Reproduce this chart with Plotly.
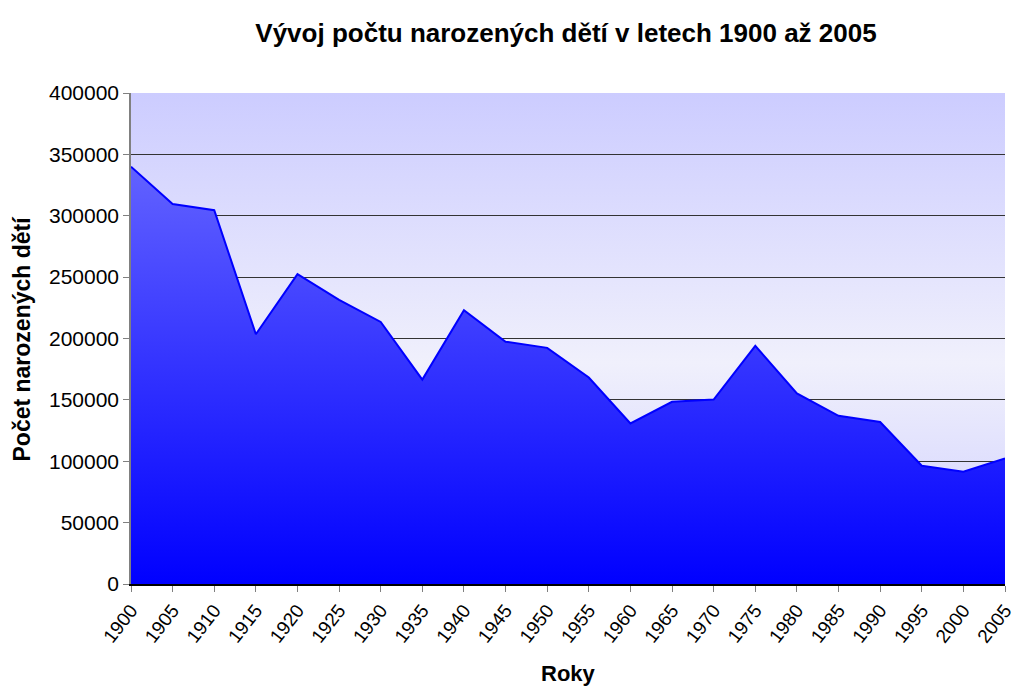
import base64
import plotly.graph_objects as go

# ---- data ----
years = [1900, 1905, 1910, 1915, 1920, 1925, 1930, 1935, 1940, 1945, 1950,
         1955, 1960, 1965, 1970, 1975, 1980, 1985, 1990, 1995, 2000, 2005]
births = [340000, 309500, 304500, 203500, 252500, 231500, 213500, 166500,
          223000, 197400, 192400, 168200, 130800, 148400, 150300, 194000,
          155200, 137000, 132000, 96300, 91400, 102300]
y_ticks = [0, 50000, 100000, 150000, 200000, 250000, 300000, 350000, 400000]
x_tick_labels = [str(y) for y in years]

title = "Vývoj počtu narozených dětí v letech 1900 až 2005"
x_title = "Roky"
y_title = "Počet narozených dětí"

FONT = "Liberation Sans, Arial, sans-serif"

# page body has an 8px margin; keep the figure inside the window (no scrollbars)
W, H = 1010, 681
ML, MR, MT, MB = 123, 13, 85, 105
PW, PH = W - ML - MR, H - MT - MB

# plot-area background gradient (SVG image behind the grid)
svg = (
    '<svg xmlns="http://www.w3.org/2000/svg" width="100" height="100" preserveAspectRatio="none">'
    '<defs><linearGradient id="g" x1="0" y1="0" x2="0" y2="1">'
    '<stop offset="0" stop-color="#ccccff"/>'
    '<stop offset="0.55" stop-color="#f0f0fc"/>'
    '<stop offset="1" stop-color="#ccccff"/>'
    '</linearGradient></defs>'
    '<rect width="100" height="100" fill="url(#g)"/></svg>'
)
svg_uri = "data:image/svg+xml;base64," + base64.b64encode(svg.encode()).decode()

fig = go.Figure()
fig.add_trace(go.Scatter(
    x=years, y=births, mode="lines", fill="tozeroy",
    line=dict(color="#0000ff", width=2),
    fillgradient=dict(type="vertical", start=0, stop=max(births),
                      colorscale=[[0, "#0000ff"], [1, "#6262ff"]]),
    hoverinfo="x+y", showlegend=False,
))

fig.add_layout_image(dict(
    source=svg_uri, xref="paper", yref="paper", x=0, y=1,
    sizex=1, sizey=1, sizing="stretch", xanchor="left", yanchor="top",
    layer="below",
))

fig.update_layout(
    width=W, height=H,
    margin=dict(l=ML, r=MR, t=MT, b=MB, autoexpand=False),
    paper_bgcolor="white",
    plot_bgcolor="rgba(0,0,0,0)",
    font=dict(family=FONT, color="black"),
    title=dict(text="<b>" + title + "</b>", x=558 / W, xanchor="center",
               y=1 - 25 / H, yanchor="middle",
               font=dict(family=FONT, size=26, color="black")),
    showlegend=False,
)

fig.add_annotation(
    text="<b>" + y_title + "</b>", textangle=-90,
    xref="paper", yref="paper", x=(13 - ML) / PW, y=0.5,
    xanchor="center", yanchor="middle", showarrow=False,
    font=dict(family=FONT, size=23, color="black"),
)
fig.add_annotation(
    text="<b>" + x_title + "</b>",
    xref="paper", yref="paper", x=0.5, y=-(665 - (MT + PH)) / PH,
    xanchor="center", yanchor="middle", showarrow=False,
    font=dict(family=FONT, size=22, color="black"),
)

fig.update_xaxes(
    range=[years[0], years[-1]], automargin=False,
    tickmode="array", tickvals=years, ticktext=x_tick_labels,
    tickangle=-52, tickfont=dict(size=19, family=FONT, color="black"),
    ticklabeloverflow="allow",
    showgrid=False, zeroline=False,
    showline=True, linecolor="black", linewidth=1.5,
    ticks="outside", ticklen=6, tickcolor="#808080", tickwidth=1,
)
fig.update_yaxes(
    range=[y_ticks[0], y_ticks[-1]], automargin=False,
    tickmode="array", tickvals=y_ticks, ticktext=[str(v) for v in y_ticks],
    tickfont=dict(size=21, family=FONT, color="black"),
    showgrid=True, gridcolor="#333333", gridwidth=1,
    zeroline=False,
    showline=True, linecolor="#808080", linewidth=1.5,
    ticks="outside", ticklen=6, tickcolor="#808080", tickwidth=1,
)

fig.write_html("out.html")
